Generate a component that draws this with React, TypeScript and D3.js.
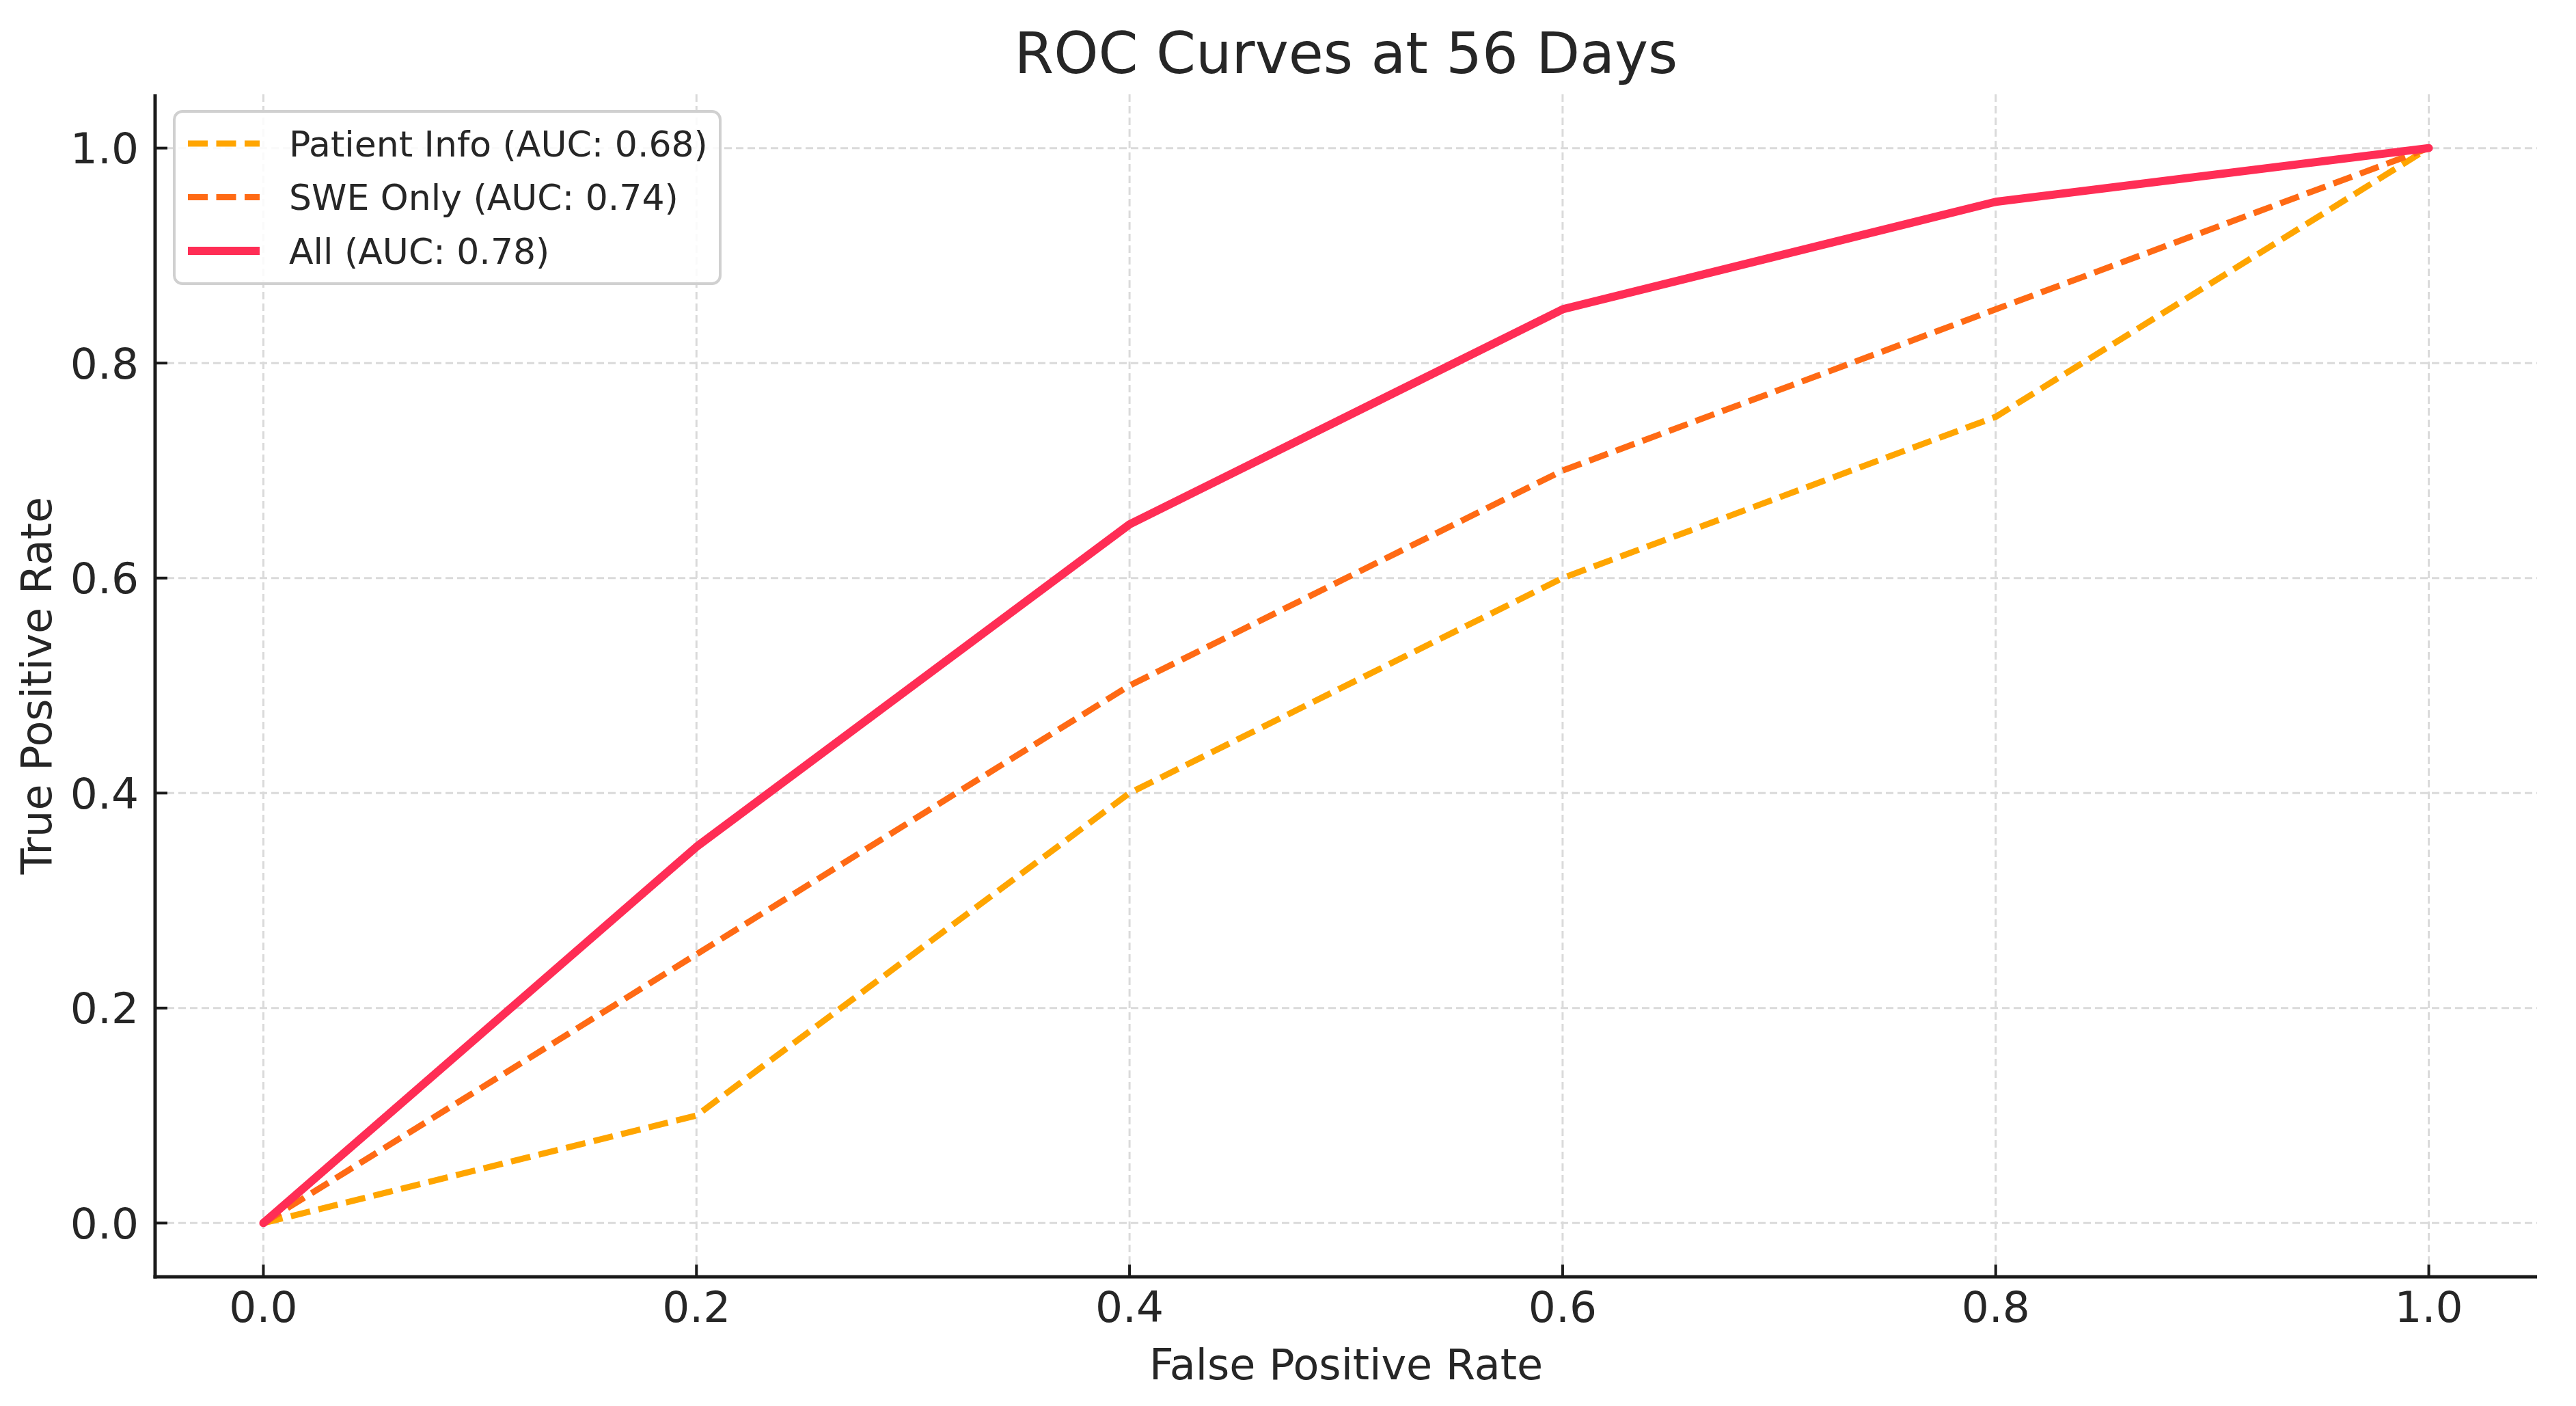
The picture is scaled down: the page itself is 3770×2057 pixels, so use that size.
import React, { useEffect } from "react";
import * as d3 from "d3";

const fprPoints = [0, 0.2, 0.4, 0.6, 0.8, 1.0];
const patientInfoTpr = [0, 0.1, 0.4, 0.6, 0.75, 1.0];
const sweOnlyTpr = [0, 0.25, 0.5, 0.7, 0.85, 1.0];
const allTpr = [0, 0.35, 0.65, 0.85, 0.95, 1.0];
const seriesNames = ["Patient Info (AUC: 0.68)", "SWE Only (AUC: 0.74)", "All (AUC: 0.78)"];
const xTicks = [0, 0.2, 0.4, 0.6, 0.8, 1.0];
const yTicks = [0, 0.2, 0.4, 0.6, 0.8, 1.0];
const titleText = "ROC Curves at 56 Days";
const xLabelText = "False Positive Rate";
const yLabelText = "True Positive Rate";

const W = 3770;
const H = 2057;
const FONT = "'DejaVu Sans', 'Liberation Sans', sans-serif";

export default function App() {
  useEffect(() => {
    document.body.style.margin = "0";
  }, []);

  const left = 227, right = 3713, top = 138, bottom = 1868;
  const x = d3.scaleLinear().domain([-0.05, 1.05]).range([left, right]);
  const y = d3.scaleLinear().domain([-0.05, 1.05]).range([bottom, top]);

  const series = [
    { name: seriesNames[0], values: patientInfoTpr, color: "#ffa500", width: 9, dash: "29 12.5" },
    { name: seriesNames[1], values: sweOnlyTpr, color: "#ff6a14", width: 9, dash: "29 12.5" },
    { name: seriesNames[2], values: allTpr, color: "#ff2d55", width: 12, dash: null as string | null },
  ];

  const line = d3
    .line<[number, number]>()
    .x((d) => x(d[0]))
    .y((d) => y(d[1]));

  const textColor = "#262626";

  return (
    <svg width={W} height={H} viewBox={`0 0 ${W} ${H}`} style={{ display: "block", background: "#fff" }}>
      <rect x={0} y={0} width={W} height={H} fill="#fff" />
      <g>
        {xTicks.map((t) => (
          <line key={"gx" + t} x1={x(t)} x2={x(t)} y1={top} y2={bottom} stroke="#dadada" strokeWidth={3} strokeDasharray="11 6" />
        ))}
        {yTicks.map((t) => (
          <line key={"gy" + t} x1={left} x2={right} y1={y(t)} y2={y(t)} stroke="#dadada" strokeWidth={3} strokeDasharray="11 6" />
        ))}
      </g>
      <g>
        {series.map((s) => (
          <path
            key={s.name}
            d={line(fprPoints.map((f, i) => [f, s.values[i]] as [number, number])) || ""}
            fill="none"
            stroke={s.color}
            strokeWidth={s.width}
            strokeDasharray={s.dash || undefined}
            strokeLinejoin="round"
            strokeLinecap={s.dash ? "butt" : "round"}
          />
        ))}
      </g>
      <line x1={left} x2={left} y1={top} y2={bottom + 2.5} stroke="#1a1a1a" strokeWidth={5} />
      <line x1={left - 2.5} x2={right} y1={bottom} y2={bottom} stroke="#1a1a1a" strokeWidth={5} />
      {xTicks.map((t) => (
        <g key={"tx" + t}>
          <line x1={x(t)} x2={x(t)} y1={bottom} y2={bottom - 18} stroke="#1a1a1a" strokeWidth={4} />
          <text x={x(t)} y={1934} textAnchor="middle" fontFamily={FONT} fontSize={63} fill={textColor}>
            {t.toFixed(1)}
          </text>
        </g>
      ))}
      {yTicks.map((t) => (
        <g key={"ty" + t}>
          <line x1={left} x2={left + 18} y1={y(t)} y2={y(t)} stroke="#1a1a1a" strokeWidth={4} />
          <text x={203} y={y(t)} dy="0.36em" textAnchor="end" fontFamily={FONT} fontSize={63} fill={textColor}>
            {t.toFixed(1)}
          </text>
        </g>
      ))}
      <text x={(left + right) / 2} y={2018} textAnchor="middle" fontFamily={FONT} fontSize={62} fill={textColor}>
        {xLabelText}
      </text>
      <text
        transform={`translate(75, ${(top + bottom) / 2}) rotate(-90)`}
        textAnchor="middle"
        fontFamily={FONT}
        fontSize={62}
        fill={textColor}
      >
        {yLabelText}
      </text>
      <text x={(left + right) / 2} y={107} textAnchor="middle" fontFamily={FONT} fontSize={83} fill={textColor}>
        {titleText}
      </text>
      <g>
        <rect x={255} y={163} width={799} height={252} rx={12} ry={12} fill="#ffffff" fillOpacity={0.85} stroke="#d0d0d0" strokeWidth={4} />
        {series.map((s, i) => {
          const cy = 210 + i * 78.5;
          return (
            <g key={"lg" + i}>
              <line x1={275} x2={380} y1={cy} y2={cy} stroke={s.color} strokeWidth={s.width} strokeDasharray={s.dash || undefined} />
              <text x={423} y={cy} dy="0.36em" fontFamily={FONT} fontSize={52} fill={textColor}>
                {s.name}
              </text>
            </g>
          );
        })}
      </g>
    </svg>
  );
}
